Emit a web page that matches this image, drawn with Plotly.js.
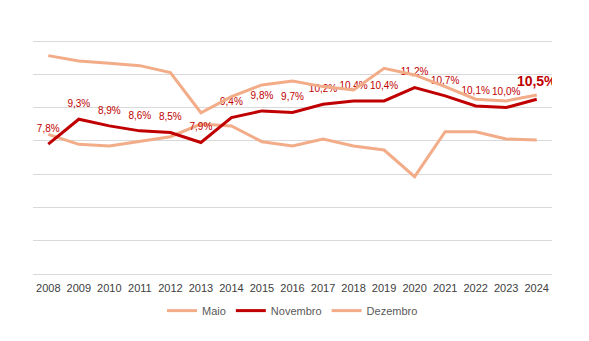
<!DOCTYPE html>
<html>
<head>
<meta charset="utf-8">
<script src="https://cdn.plot.ly/plotly-3.0.1.min.js"></script>
<style>html,body{margin:0;padding:0;background:#fff}#chart{width:589px;height:341px}</style>
</head>
<body>
<div id="chart"></div>
<script>
const years = ['2008','2009','2010','2011','2012','2013','2014','2015','2016','2017','2018','2019','2020','2021','2022','2023','2024'];
const maio = [8.39, 7.79, 7.69, 7.95, 8.25, 9.01, 8.89, 7.95, 7.69, 8.11, 7.69, 7.45, 5.85, 8.55, 8.55, 8.11, 8.05];
const novembro = [7.8, 9.3, 8.9, 8.6, 8.5, 7.9, 9.4, 9.8, 9.7, 10.2, 10.4, 10.4, 11.2, 10.7, 10.1, 10.0, 10.5];
const dezembro = [13.12, 12.80, 12.66, 12.52, 12.10, 9.69, 10.66, 11.36, 11.60, 11.26, 11.06, 12.36, 11.96, 11.26, 10.50, 10.40, 10.76];

const lightColor = '#F2AC88';
const darkColor = '#C00000';
const last = novembro.length - 1;
const novLabels = novembro.map((v, i) => {
  const s = v.toFixed(1).replace('.', ',') + '%';
  return i === last ? '<b>' + s + '</b>' : s;
});
const novSizes = novembro.map((v, i) => i === last ? 14 : 10);

const traces = [
  {x: years, y: maio, name: 'Maio', type: 'scatter', mode: 'lines',
   line: {color: lightColor, width: 3}},
  {x: years, y: novembro, name: 'Novembro', type: 'scatter', mode: 'lines+markers+text',
   line: {color: darkColor, width: 3},
   marker: {size: 14, color: 'rgba(0,0,0,0)'},
   text: novLabels, textposition: 'top center',
   textfont: {family: 'Liberation Sans, Arial, sans-serif', size: novSizes, color: darkColor}},
  {x: years, y: dezembro, name: 'Dezembro', type: 'scatter', mode: 'lines',
   line: {color: lightColor, width: 3}}
];

const layout = {
  width: 589, height: 341,
  margin: {l: 33, r: 37, t: 38, b: 64},
  paper_bgcolor: '#fff', plot_bgcolor: '#fff',
  font: {family: 'Liberation Sans, Arial, sans-serif', color: '#595959', size: 11},
  showlegend: true,
  legend: {orientation: 'h', x: 0.5, xanchor: 'center', xref: 'paper', y: -0.08, yanchor: 'top',
           font: {size: 11, color: '#595959'}, traceorder: 'normal'},
  xaxis: {type: 'category', range: [-0.5, 16.5], showgrid: false, zeroline: false,
          showline: false, ticks: '', ticklabelstandoff: 3,
          tickfont: {size: 11, color: '#404040'}, fixedrange: true},
  yaxis: {range: [-0.18, 14.18], dtick: 2, tick0: 0, showgrid: true, gridcolor: '#D9D9D9', gridwidth: 1,
          zeroline: false, showticklabels: false, ticks: '', fixedrange: true},
  hovermode: false
};

Plotly.newPlot('chart', traces, layout, {displayModeBar: false, staticPlot: true});
</script>
</body>
</html>
